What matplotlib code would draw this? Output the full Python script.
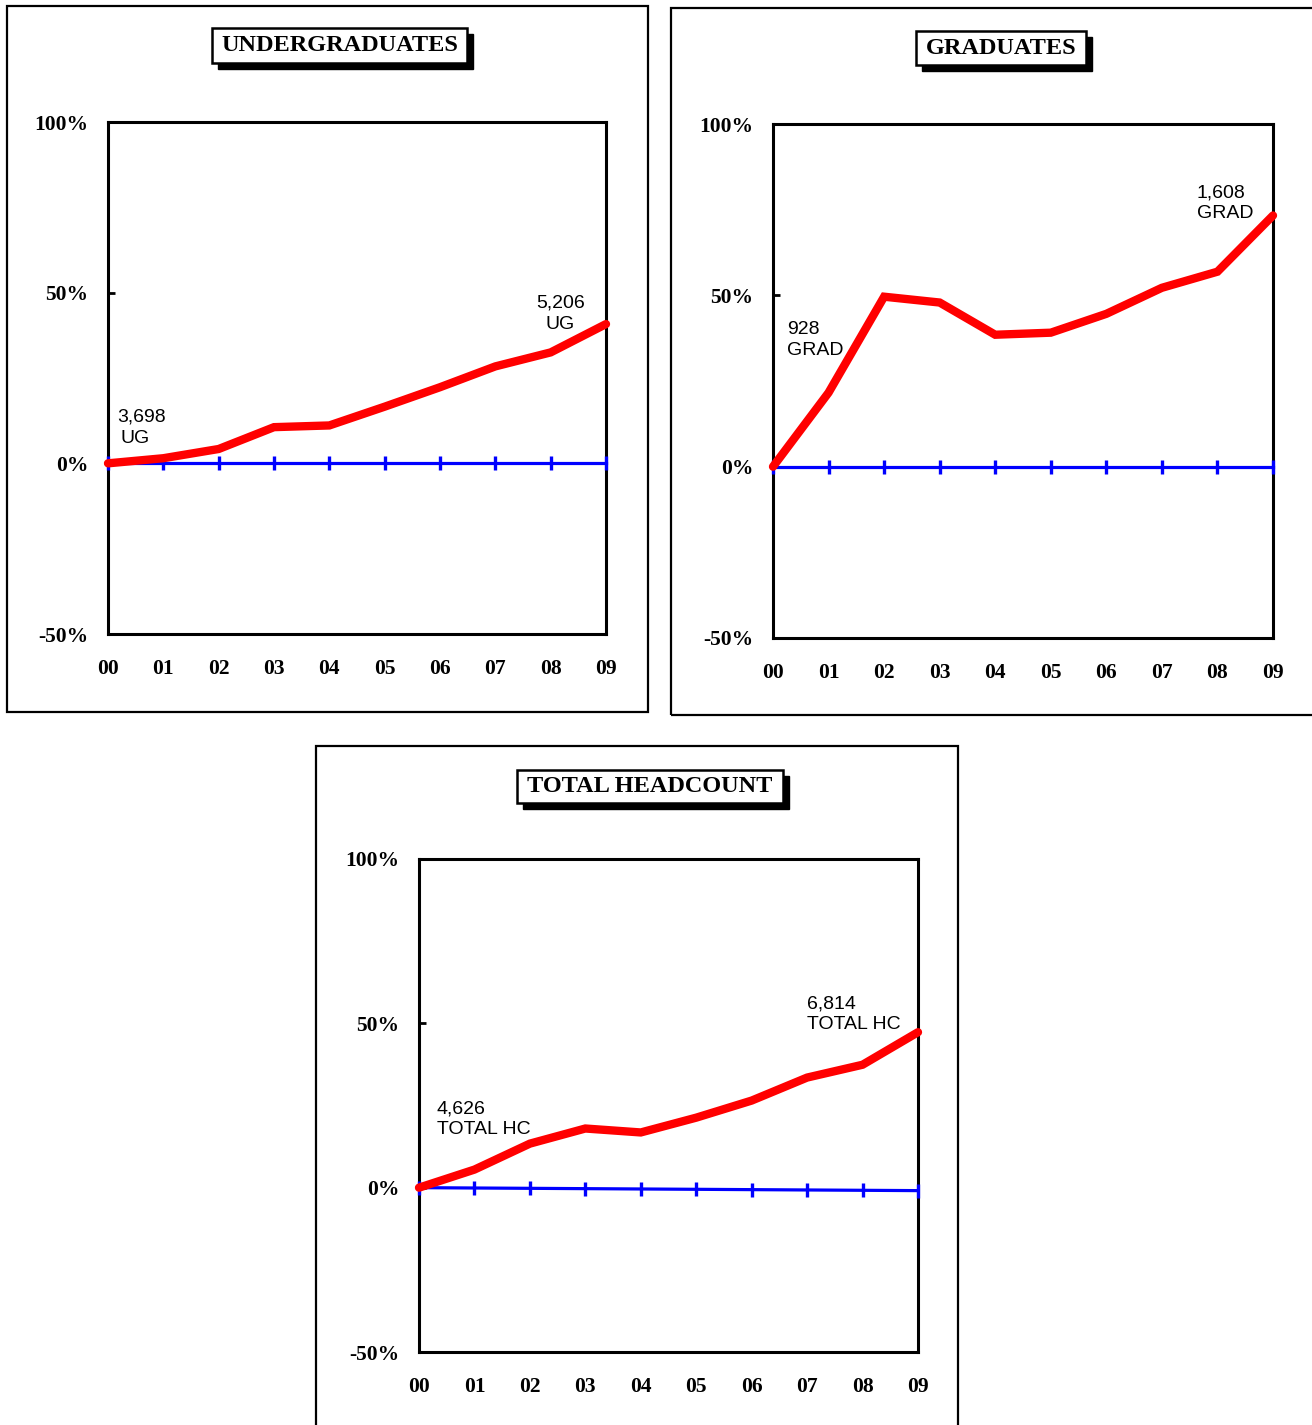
import matplotlib.pyplot as plt
from matplotlib.patches import Rectangle

W, H = 1312, 1425
DPI = 100

years = ["00", "01", "02", "03", "04", "05", "06", "07", "08", "09"]
y_ticks = [-50, 0, 50, 100]
y_tick_labels = ["-50%", "0%", "50%", "100%"]

ug_change = [0.0, 1.5, 4.2, 10.6, 11.1, 16.6, 22.3, 28.4, 32.5, 40.8]
ug_base = [0.0, 0.0, 0.0, 0.0, 0.0, 0.0, 0.0, 0.0, 0.0, 0.0]
grad_change = [0.0, 21.6, 49.6, 47.9, 38.5, 39.1, 44.6, 52.2, 56.9, 73.3]
grad_base = [0.0, 0.0, 0.0, 0.0, 0.0, 0.0, 0.0, 0.0, 0.0, 0.0]
hc_change = [0.0, 5.5, 13.4, 18.0, 16.8, 21.3, 26.5, 33.5, 37.4, 47.3]
hc_base = [0.0, -0.1, -0.2, -0.3, -0.4, -0.5, -0.6, -0.7, -0.8, -0.9]

ug_labels = ["3,698", "UG", "5,206", "UG"]
grad_labels = ["928", "GRAD", "1,608", "GRAD"]
hc_labels = ["4,626", "TOTAL HC", "6,814", "TOTAL HC"]

SERIF = "Liberation Serif"
SANS = "Liberation Sans"


def fx(px):
    return px / W


def fy(py):
    return 1 - py / H


def panel_box(fig, x0, y0, x1, y1):
    fig.patches.append(Rectangle((fx(x0), fy(y1)), fx(x1) - fx(x0), fy(y0) - fy(y1),
                                 transform=fig.transFigure, fill=False,
                                 edgecolor="black", linewidth=1.6))


def title_box(fig, x0, y0, x1, y1, text):
    off = 6
    fig.patches.append(Rectangle((fx(x0 + off), fy(y1 + off)), fx(x1) - fx(x0), fy(y0) - fy(y1),
                                 transform=fig.transFigure, facecolor="black",
                                 edgecolor="black", linewidth=1, zorder=2))
    fig.patches.append(Rectangle((fx(x0), fy(y1)), fx(x1) - fx(x0), fy(y0) - fy(y1),
                                 transform=fig.transFigure, facecolor="white",
                                 edgecolor="black", linewidth=1.8, zorder=3))
    fig.text(fx((x0 + x1) / 2), fy((y0 + y1) / 2), text, family=SERIF, weight="bold",
             fontsize=17.5, ha="center", va="center", zorder=4)


def chart(fig, x0, y0, x1, y1, change, base, labels, label_pos):
    ax = fig.add_axes([fx(x0), fy(y1), fx(x1) - fx(x0), fy(y0) - fy(y1)])
    xs = list(range(len(years)))
    ax.plot(xs, base, color="#0000ff", linewidth=2.3, marker="|", markersize=9.5,
            markeredgewidth=2.4, clip_on=False, zorder=3)
    ax.plot(xs, change, color="#ff0000", linewidth=6.0, solid_capstyle="round",
            solid_joinstyle="miter", clip_on=False, zorder=4)
    ax.set_xlim(0, len(years) - 1)
    ax.set_ylim(-50, 100)
    ax.set_xticks(xs)
    ax.set_xticklabels(years)
    ax.set_yticks(y_ticks)
    ax.set_yticklabels(y_tick_labels)
    for lab in ax.get_xticklabels() + ax.get_yticklabels():
        lab.set_family(SERIF)
        lab.set_weight("bold")
        lab.set_fontsize(15.5)
    ax.tick_params(axis="x", length=0, pad=18)
    ax.tick_params(axis="y", direction="in", length=5, width=2, pad=14)
    for sp in ax.spines.values():
        sp.set_linewidth(2.2)
    for text, (tx, ty, ha) in zip(labels, label_pos):
        ax.text(tx, ty, text, family=SANS, fontsize=14, ha=ha, va="center", zorder=5)
    return ax


fig = plt.figure(figsize=(W / DPI, H / DPI), dpi=DPI)

panel_box(fig, 7, 6, 648, 712)
panel_box(fig, 671, 8, 1318, 715)
panel_box(fig, 316, 746, 958, 1432)

title_box(fig, 212, 28, 467, 63, "UNDERGRADUATES")
title_box(fig, 916, 31, 1086, 65, "GRADUATES")
title_box(fig, 517, 770, 783, 803, "TOTAL HEADCOUNT")

chart(fig, 108, 122, 606, 634, ug_change, ug_base, ug_labels,
      [(0.16, 13.5, "left"), (0.23, 7.3, "left"), (8.18, 46.9, "center"), (8.17, 40.7, "center")])
chart(fig, 773, 124, 1273, 638, grad_change, grad_base, grad_labels,
      [(0.25, 40.0, "left"), (0.25, 33.8, "left"), (7.63, 80.0, "left"), (7.63, 73.8, "left")])
chart(fig, 419, 859, 918, 1352, hc_change, hc_base, hc_labels,
      [(0.32, 24.0, "left"), (0.32, 17.6, "left"), (7.0, 56.0, "left"), (7.0, 49.6, "left")])

fig.savefig("out.png", dpi=DPI)
